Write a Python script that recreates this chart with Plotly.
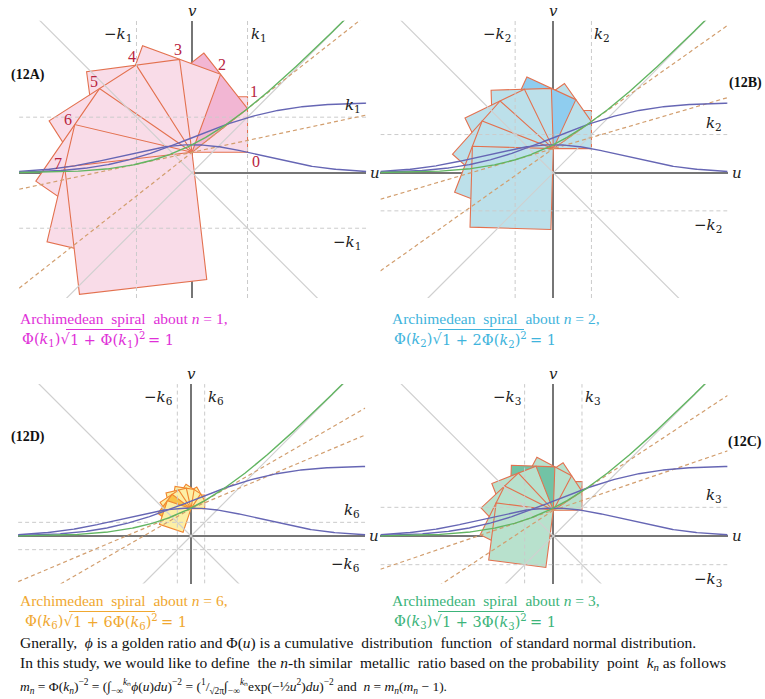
import math
import numpy as np
import plotly.graph_objects as go

# ---------------------------------------------------------------- data
panel_tags = ["(12A)", "(12B)", "(12D)", "(12C)"]
panel_n = [1, 2, 6, 3]            # metallic index n of each panel
triangle_counts = [7, 7, 7, 7]    # right triangles in each spiral
point_labels = ["0", "1", "2", "3", "4", "5", "6", "7"]  # drawn on the n = 1 panel

fill_light = ["#F9DCE8", "#BCE0EA", "#FCEFA6", "#B8E1CD"]
fill_dark = ["#F2B6D3", "#8FCDEF", "#F9C247", "#72C3A5"]
edge_colors = ["#E3714F", "#E3714F", "#F08630", "#E3714F"]
caption_colors = ["#E030D8", "#3FB4DC", "#F0A830", "#3CB47A"]

# ---------------------------------------------------------------- layout (px)
W, H = 765, 699
SCALE = 70.0                                  # px per unit
origins = [(192.0, 172.7), (553.3, 172.7), (191.0, 536.0), (553.3, 536.0)]
u_span = (-2.47, 2.49)
v_spans = [(-1.79, 2.17), (-1.79, 2.17), (-0.68, 2.17), (-0.68, 2.17)]

BLUE = "#6666B4"
GREEN = "#62B562"
TAN = "#D29E6E"
GRID = "#CBCBCB"
DIAG = "#D0D0D0"
AXIS = "#767676"
SERIF = "Liberation Serif"
MATH = "DejaVu Serif"


def cdf(x):
    return 0.5 * (1.0 + math.erf(x / math.sqrt(2.0)))


def pdf(x):
    return math.exp(-0.5 * x * x) / math.sqrt(2.0 * math.pi)


def inv_cdf(p):
    lo, hi = -8.0, 8.0
    for _ in range(200):
        mid = 0.5 * (lo + hi)
        if cdf(mid) < p:
            lo = mid
        else:
            hi = mid
    return 0.5 * (lo + hi)


def k_of(n):
    # Phi(k) * sqrt(1 + n Phi(k)^2) = 1  ->  n x^2 + x - 1 = 0 with x = Phi^2
    x = (-1.0 + math.sqrt(1.0 + 4.0 * n)) / (2.0 * n)
    return inv_cdf(math.sqrt(x))


def px(x):
    return x / W


def py(y):
    return 1 - y / H


fig = go.Figure()
annotations = []
shapes = []

u = np.linspace(u_span[0], u_span[1], 400)
Phi = np.array([cdf(t) for t in u])
phi = np.array([pdf(t) for t in u])
G = u * Phi + phi                      # integral of Phi

for i in range(4):
    n = panel_n[i]
    k = k_of(n)
    ox, oy = origins[i]
    v_lo, v_hi = v_spans[i]
    xa = "x" if i == 0 else f"x{i + 1}"
    ya = "y" if i == 0 else f"y{i + 1}"
    ax_key = "xaxis" if i == 0 else f"xaxis{i + 1}"
    ay_key = "yaxis" if i == 0 else f"yaxis{i + 1}"

    x0 = ox + u_span[0] * SCALE
    x1 = ox + u_span[1] * SCALE
    ytop = oy - v_hi * SCALE
    ybot = oy - v_lo * SCALE
    common = dict(showgrid=False, showticklabels=False, ticks="", showline=False,
                  zeroline=True, zerolinecolor=AXIS, zerolinewidth=1.6,
                  fixedrange=True)
    fig.layout[ax_key] = dict(domain=[px(x0), px(x1)], range=list(u_span),
                              anchor=ya, **common)
    fig.layout[ay_key] = dict(domain=[py(ybot), py(ytop)],
                              range=[v_lo, v_hi], anchor=xa, **common)

    # ---- spiral of right triangles with a square on every radius
    cx, cy = 0.0, pdf(k)
    leg = k * cdf(k)
    theta = 0.0
    points = []
    for m in range(triangle_counts[i] + 1):
        r = math.sqrt(k * k + m * leg * leg)
        points.append((r, theta))
        theta += math.atan2(leg, r)
    for m, (r, th) in enumerate(points):
        ex, ey = math.cos(th), math.sin(th)
        qx, qy = -ey, ex
        xs = [cx, cx + r * ex, cx + r * ex + r * qx, cx + r * qx, cx]
        ys = [cy, cy + r * ey, cy + r * ey + r * qy, cy + r * qy, cy]
        fig.add_trace(go.Scatter(
            x=xs, y=ys, mode="lines", fill="toself",
            fillcolor=fill_dark[i] if m == n else fill_light[i],
            line=dict(color=edge_colors[i], width=1.1),
            hoverinfo="skip", showlegend=False, xaxis=xa, yaxis=ya))

    # ---- reference lines
    def add_line(xs, ys, color, width, dash=None):
        fig.add_trace(go.Scatter(
            x=xs, y=ys, mode="lines",
            line=dict(color=color, width=width, dash=dash),
            hoverinfo="skip", showlegend=False, xaxis=xa, yaxis=ya))

    add_line([u_span[0], u_span[1]], [u_span[0], u_span[1]], DIAG, 1.2)
    add_line([u_span[0], u_span[1]], [-u_span[0], -u_span[1]], DIAG, 1.2)
    for s in (-1, 1):
        add_line([s * k, s * k], [v_lo, v_hi], GRID, 1, "4px,3px")
        add_line([u_span[0], u_span[1]], [s * k, s * k], GRID, 1, "4px,3px")

    # tangent of G at k and its companion line, both through the centre
    add_line(u, cy + cdf(k) * u, TAN, 1.2, "4px,3px")
    add_line(u, cy + (1 - cdf(k)) * u, TAN, 1.2, "4px,3px")

    add_line(u, phi, BLUE, 1.4)
    add_line(u, Phi, BLUE, 1.4)
    add_line(u, G, GREEN, 1.4)

    # ---- axis and level labels
    ks = f"<i>k</i><sub>{n}</sub>"
    lab = dict(xref=xa, yref=ya, showarrow=False,
               font=dict(family=MATH, size=15, color="#222"))
    annotations += [
        dict(x=0, y=v_hi, text="<i>v</i>", xanchor="center", yanchor="bottom",
             yshift=-1, **lab),
        dict(x=u_span[1], y=0, text="<i>u</i>", xanchor="left", yanchor="middle",
             xshift=2, **lab),
        dict(x=-k, y=1.98, text="−" + ks, xanchor="right", yanchor="middle",
             xshift=-2, **lab),
        dict(x=k, y=1.98, text=ks, xanchor="left", yanchor="middle",
             xshift=1, **lab),
        dict(x=2.44, y=k, text=ks, xanchor="right", yanchor="bottom",
             yshift=0, **lab),
        dict(x=2.44, y=-k, text="−" + ks, xanchor="right", yanchor="top",
             yshift=-3, **lab),
    ]

    # ---- panel tag
    tag_x = 28 if i in (0, 2) else 745
    tag_y = {0: 75, 1: 83, 2: 437, 3: 442}[i]
    annotations.append(dict(
        xref="paper", yref="paper", x=px(tag_x), y=py(tag_y),
        text=f"<b>{panel_tags[i]}</b>", showarrow=False,
        xanchor="center", yanchor="middle",
        font=dict(family=SERIF, size=14, color="#111")))

    # ---- numbered spiral vertices
    if n == 1:
        for m, (r, th) in enumerate(points):
            if m == 0:
                dx, dy = 8, -9
            elif m == 1:
                dx, dy = 6, 17
            else:
                dx, dy = 6 * math.cos(th) - 1, 6 * math.sin(th) + 4
            annotations.append(dict(
                xref=xa, yref=ya, x=cx + r * math.cos(th), y=cy + r * math.sin(th),
                text=point_labels[m], showarrow=False, xshift=dx, yshift=dy,
                xanchor="center", yanchor="middle",
                font=dict(family=SERIF, size=16, color="#B8243E")))

    # ---- captions: title line and the defining equation with a radical
    cap_x = 18 if i in (0, 2) else 390
    cap_y = 318 if i < 2 else 600
    col = caption_colors[i]
    coef = "" if n == 1 else str(n)
    annotations.append(dict(
        xref="paper", yref="paper", x=px(cap_x), y=py(cap_y),
        text=f"Archimedean\u00a0 spiral\u00a0 about <i>n</i> = {n},",
        showarrow=False, xanchor="left", yanchor="middle",
        font=dict(family=SERIF, size=15.5, color=col)))

    eq_y = cap_y + 22
    x_pre = cap_x + 2 + (3 if i == 2 else 0)
    x_rad = x_pre + 48
    rad_w = 74 + (10 if coef else 0)
    eq_font = dict(family=MATH, size=14.5, color=col)
    annotations.append(dict(
        xref="paper", yref="paper", x=px(x_pre), y=py(eq_y),
        text=f"Φ(<i>k</i><sub>{n}</sub>)√", showarrow=False,
        xanchor="left", yanchor="middle", font=eq_font))
    annotations.append(dict(
        xref="paper", yref="paper", x=px(x_rad), y=py(eq_y),
        text=f"1 + {coef}Φ(<i>k</i><sub>{n}</sub>)<sup>2</sup>", showarrow=False,
        xanchor="left", yanchor="middle", font=eq_font))
    annotations.append(dict(
        xref="paper", yref="paper", x=px(x_rad + rad_w + 4), y=py(eq_y),
        text="= 1", showarrow=False,
        xanchor="left", yanchor="middle", font=eq_font))
    shapes.append(dict(
        type="line", xref="paper", yref="paper",
        x0=px(x_rad - 2), x1=px(x_rad + rad_w), y0=py(eq_y - 10.5),
        y1=py(eq_y - 10.5), line=dict(color=col, width=1)))

# ---------------------------------------------------------------- paragraph
para = [
    ("Gnerally,\u00a0 <i>ϕ</i> is a golden ratio and Φ(<i>u</i>) is a cumulative\u00a0 "
     "distribution\u00a0 function\u00a0 of standard normal distribution.", 643, 15.5),
    ("In this study, we would like to define\u00a0 the <i>n</i>-th similar\u00a0 metallic\u00a0 "
     "ratio based on the probability\u00a0 point\u00a0 <i>k</i><sub><i>n</i></sub> as follows",
     663, 15.5),
    ("<i>m</i><sub><i>n</i></sub> = Φ(<i>k</i><sub><i>n</i></sub>)<sup>−2</sup> = "
     "(∫<sub>−∞</sub><sup><i>k</i>ₙ</sup><i>ϕ</i>(<i>u</i>)<i>du</i>)<sup>−2</sup> = "
     "(<sup>1</sup>/<sub>√2π</sub>∫<sub>−∞</sub><sup><i>k</i>ₙ</sup>"
     "exp(−½<i>u</i><sup>2</sup>)<i>du</i>)<sup>−2</sup> and\u00a0 "
     "<i>n</i> = <i>m</i><sub><i>n</i></sub>(<i>m</i><sub><i>n</i></sub> − 1).", 686, 13.5),
]
for text, yy, fs in para:
    annotations.append(dict(
        xref="paper", yref="paper", x=px(18), y=py(yy), text=text,
        showarrow=False, xanchor="left", yanchor="middle",
        font=dict(family=SERIF, size=fs, color="#111")))

fig.update_layout(
    width=W, height=H, margin=dict(l=0, r=0, t=0, b=0),
    paper_bgcolor="white", plot_bgcolor="rgba(0,0,0,0)",
    showlegend=False, annotations=annotations, shapes=shapes)

fig.write_html("out.html")
